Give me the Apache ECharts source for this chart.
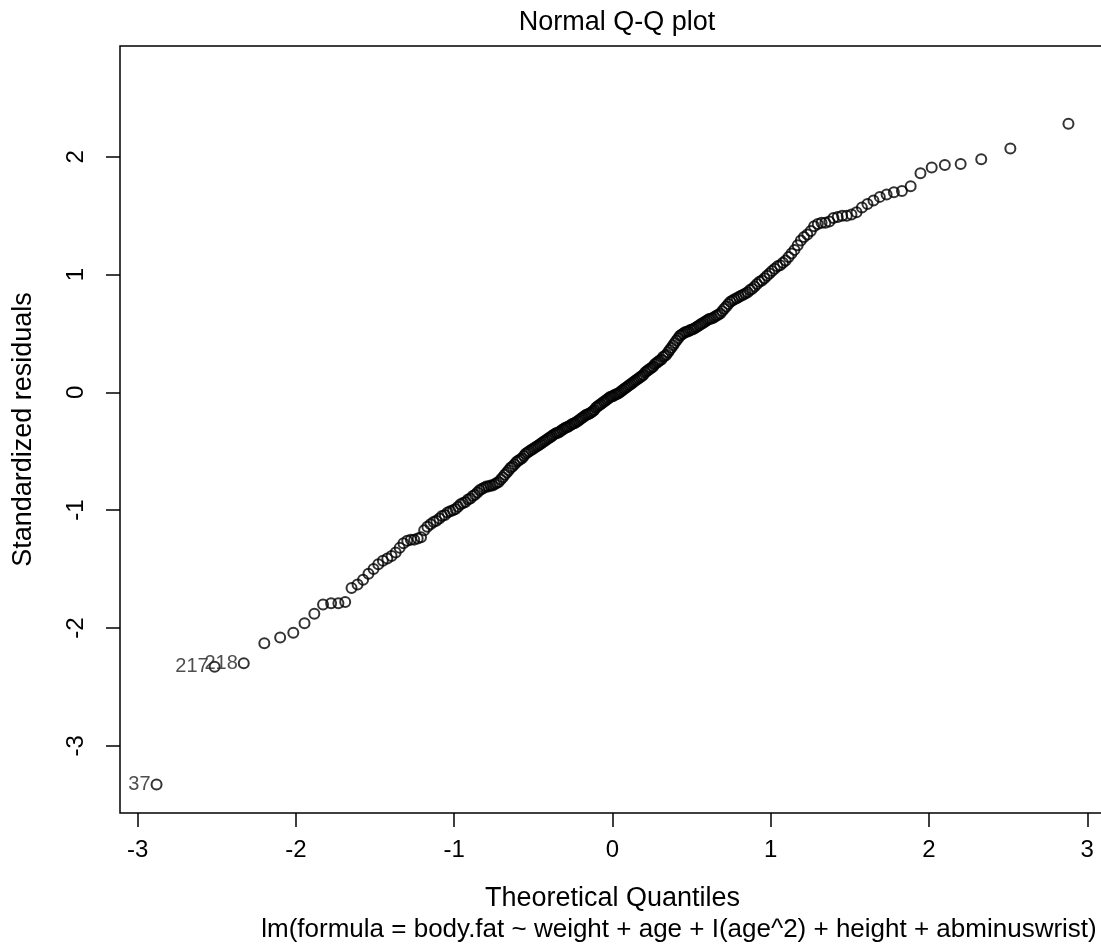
<!DOCTYPE html>
<html>
<head>
<meta charset="utf-8">
<title>Normal Q-Q plot</title>
<script src="https://cdn.jsdelivr.net/npm/echarts@6/dist/echarts.min.js"></script>
<style>
  html, body { margin: 0; padding: 0; background: #fff; overflow: hidden; }
  /* a bit wider than the window: the right edge of the plot box falls just off-page */
  #chart { width: 1106px; height: 946px; }
</style>
</head>
<body>
<div id="chart"></div>
<script>
// theoretical quantiles (x)
const theoQuantiles = [
  -2.881,-2.514,-2.330,-2.200,-2.100,-2.017,-1.946,-1.884,-1.829,-1.778,
  -1.732,-1.689,-1.649,-1.611,-1.576,-1.542,-1.510,-1.480,-1.451,-1.423,
  -1.396,-1.370,-1.345,-1.321,-1.297,-1.274,-1.253,-1.231,-1.210,-1.190,
  -1.170,-1.150,-1.131,-1.113,-1.094,-1.077,-1.059,-1.042,-1.025,-1.008,
  -0.992,-0.976,-0.960,-0.944,-0.929,-0.913,-0.898,-0.883,-0.869,-0.854,
  -0.840,-0.826,-0.812,-0.798,-0.785,-0.771,-0.758,-0.745,-0.732,-0.719,
  -0.706,-0.693,-0.681,-0.668,-0.656,-0.644,-0.632,-0.619,-0.607,-0.596,
  -0.584,-0.572,-0.560,-0.549,-0.537,-0.526,-0.514,-0.503,-0.492,-0.480,
  -0.469,-0.458,-0.447,-0.436,-0.426,-0.415,-0.404,-0.393,-0.383,-0.372,
  -0.361,-0.351,-0.340,-0.330,-0.319,-0.309,-0.298,-0.288,-0.278,-0.267,
  -0.257,-0.247,-0.237,-0.226,-0.216,-0.206,-0.196,-0.186,-0.176,-0.166,
  -0.155,-0.145,-0.135,-0.125,-0.115,-0.105,-0.095,-0.085,-0.075,-0.065,
  -0.055,-0.045,-0.035,-0.025,-0.015,-0.005,
  0.005,0.015,0.025,0.035,0.045,0.055,
  0.065,0.075,0.085,0.095,0.105,0.115,0.125,0.135,0.145,0.155,
  0.166,0.176,0.186,0.196,0.206,0.216,0.226,0.237,0.247,0.257,
  0.267,0.278,0.288,0.298,0.309,0.319,0.330,0.340,0.351,0.361,
  0.372,0.383,0.393,0.404,0.415,0.426,0.436,0.447,0.458,0.469,
  0.480,0.492,0.503,0.514,0.526,0.537,0.549,0.560,0.572,0.584,
  0.596,0.607,0.619,0.632,0.644,0.656,0.668,0.681,0.693,0.706,
  0.719,0.732,0.745,0.758,0.771,0.785,0.798,0.812,0.826,0.840,
  0.854,0.869,0.883,0.898,0.913,0.929,0.944,0.960,0.976,0.992,
  1.008,1.025,1.042,1.059,1.077,1.094,1.113,1.131,1.150,1.170,
  1.190,1.210,1.231,1.253,1.274,1.297,1.321,1.345,1.370,1.396,
  1.423,1.451,1.480,1.510,1.542,1.576,1.611,1.649,1.689,1.732,
  1.778,1.829,1.884,1.946,2.017,2.100,2.200,2.330,2.514,2.881
]

// sorted standardized residuals (y)
const stdResiduals = [
  -3.33,-2.33,-2.30,-2.13,-2.08,-2.04,-1.96,-1.88,-1.80,-1.79,
  -1.79,-1.78,-1.66,-1.63,-1.59,-1.54,-1.50,-1.46,-1.43,-1.41,
  -1.39,-1.36,-1.32,-1.28,-1.26,-1.25,-1.25,-1.24,-1.23,-1.17,
  -1.14,-1.12,-1.10,-1.09,-1.07,-1.05,-1.04,-1.02,-1.01,-1.00,
  -0.99,-0.97,-0.95,-0.94,-0.93,-0.91,-0.90,-0.88,-0.87,-0.85,
  -0.83,-0.82,-0.81,-0.80,-0.80,-0.79,-0.79,-0.78,-0.77,-0.76,
  -0.74,-0.72,-0.70,-0.68,-0.66,-0.64,-0.63,-0.61,-0.59,-0.58,
  -0.57,-0.56,-0.54,-0.52,-0.51,-0.50,-0.49,-0.48,-0.47,-0.46,
  -0.45,-0.44,-0.43,-0.42,-0.41,-0.40,-0.39,-0.38,-0.37,-0.36,
  -0.35,-0.345,-0.34,-0.33,-0.32,-0.31,-0.30,-0.295,-0.29,-0.28,
  -0.27,-0.265,-0.26,-0.25,-0.24,-0.23,-0.22,-0.21,-0.20,-0.19,
  -0.185,-0.18,-0.17,-0.16,-0.15,-0.13,-0.12,-0.11,-0.10,-0.09,
  -0.08,-0.07,-0.06,-0.05,-0.04,-0.035,
  -0.03,-0.02,-0.015,-0.01,0.00,0.01,
  0.02,0.03,0.04,0.05,0.06,0.07,0.08,0.09,0.10,0.11,
  0.12,0.13,0.14,0.15,0.17,0.18,0.19,0.20,0.21,0.22,
  0.24,0.25,0.26,0.27,0.28,0.30,0.31,0.32,0.34,0.36,
  0.38,0.40,0.42,0.44,0.46,0.48,0.49,0.50,0.51,0.515,
  0.52,0.53,0.535,0.54,0.55,0.56,0.57,0.58,0.59,0.60,
  0.61,0.62,0.625,0.63,0.64,0.65,0.66,0.67,0.69,0.71,
  0.73,0.75,0.77,0.78,0.79,0.80,0.81,0.82,0.83,0.84,
  0.85,0.87,0.88,0.90,0.92,0.94,0.95,0.97,0.99,1.01,
  1.03,1.05,1.07,1.08,1.10,1.12,1.15,1.18,1.21,1.25,
  1.29,1.32,1.34,1.37,1.41,1.43,1.44,1.44,1.45,1.48,
  1.49,1.50,1.50,1.51,1.53,1.57,1.60,1.63,1.66,1.68,
  1.70,1.71,1.75,1.86,1.91,1.93,1.94,1.98,2.07,2.28
]

// labelled observations (index into the sorted arrays, label text)
const idIndex = [0, 1, 2]
const idText = ['37', '217', '218']

const xTicks = [-3, -2, -1, 0, 1, 2, 3]
const yTicks = [-3, -2, -1, 0, 1, 2]

const FONT = '"Liberation Sans", Arial, Helvetica, sans-serif'

const points = theoQuantiles.map((q, i) => {
  const k = idIndex.indexOf(i)
  if (k < 0) return [q, stdResiduals[i]]
  return {
    value: [q, stdResiduals[i]],
    label: {
      show: true,
      formatter: idText[k],
      position: 'left',
      distance: 0,
      color: '#222',
      fontSize: 20,
      fontFamily: FONT
    }
  }
})

const chart = echarts.init(document.getElementById('chart'))
chart.setOption({
  animation: false,
  backgroundColor: '#fff',
  title: {
    text: 'Normal Q-Q plot',
    left: 612,
    top: 4,
    textAlign: 'center',
    textStyle: { color: '#000', fontWeight: 'normal', fontSize: 27, fontFamily: FONT }
  },
  grid: {
    left: 120,
    width: 985,
    top: 46,
    bottom: 133,
    outerBoundsMode: 'none',
    show: true,
    borderColor: '#000',
    borderWidth: 1.5
  },
  xAxis: {
    type: 'value',
    min: -3.112,
    max: 3.112,
    name: 'Theoretical Quantiles',
    nameLocation: 'middle',
    nameGap: 72,
    nameTextStyle: { color: '#000', fontSize: 27, fontFamily: FONT },
    axisLine: { show: false, onZero: false },
    splitLine: { show: false },
    axisTick: {
      show: true,
      length: 14,
      customValues: xTicks,
      lineStyle: { color: '#000', width: 1.5 }
    },
    axisLabel: {
      customValues: xTicks,
      margin: 25,
      color: '#000',
      fontSize: 24,
      fontFamily: FONT
    }
  },
  yAxis: {
    type: 'value',
    min: -3.571,
    max: 2.941,
    name: 'Standardized residuals',
    nameLocation: 'middle',
    nameGap: 83,
    nameTextStyle: { color: '#000', fontSize: 27, fontFamily: FONT },
    axisLine: { show: false, onZero: false },
    splitLine: { show: false },
    axisTick: {
      show: true,
      length: 14,
      customValues: yTicks,
      lineStyle: { color: '#000', width: 1.5 }
    },
    axisLabel: {
      customValues: yTicks,
      rotate: 90,
      margin: 32,
      color: '#000',
      fontSize: 24,
      fontFamily: FONT
    }
  },
  graphic: [
    {
      type: 'text',
      x: 679,
      y: 917,
      style: {
        text: 'lm(formula = body.fat ~ weight + age + I(age^2) + height + abminuswrist)',
        fill: '#000',
        fontSize: 26,
        fontFamily: FONT,
        textAlign: 'center',
        textVerticalAlign: 'top'
      }
    }
  ],
  series: [
    {
      type: 'scatter',
      symbol: 'circle',
      symbolSize: 10,
      itemStyle: { color: 'rgba(0,0,0,0)', borderColor: '#000', borderWidth: 2 },
      emphasis: { disabled: true },
      data: points
    }
  ]
})
</script>
</body>
</html>
